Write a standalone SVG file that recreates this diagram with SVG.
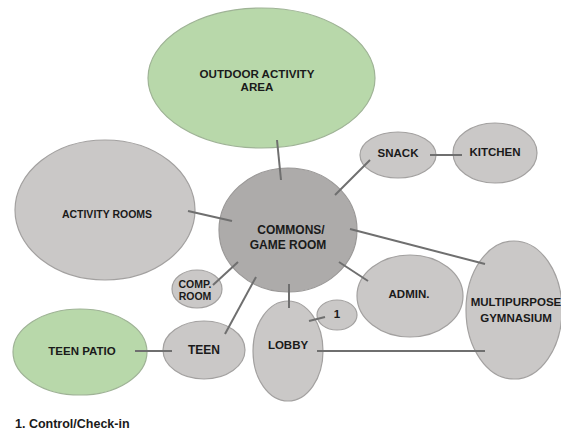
<svg xmlns="http://www.w3.org/2000/svg" width="561" height="430" viewBox="0 0 561 430">
<style>
.g{fill:#b8d8aa;stroke:#9fb396;stroke-width:1.2}
.n{fill:#cac8c7;stroke:#a3a1a0;stroke-width:1.2}
.c{fill:#adabaa;stroke:#9a9897;stroke-width:1.2}
.t{font-family:"Liberation Sans",Arial,sans-serif;font-weight:bold;font-size:11.5px;fill:#1a1a1a;text-anchor:middle}
.e{stroke:#6f6f6f;stroke-width:2;fill:none}
</style>
<rect width="561" height="430" fill="#ffffff"/>
<g id="node-outdoor"><ellipse class="g" cx="261.5" cy="78" rx="113.5" ry="70"/><text class="t" x="257" y="77.5" style="font-size:11.6px">OUTDOOR ACTIVITY</text><text class="t" x="257" y="91" style="font-size:11.6px">AREA</text></g>
<g id="node-activity"><ellipse class="n" cx="105" cy="210" rx="90" ry="70"/><text class="t" x="107" y="218" style="font-size:10.5px">ACTIVITY ROOMS</text></g>
<g id="node-commons"><ellipse class="c" cx="288" cy="230" rx="69" ry="62"/><text class="t" x="291" y="234" style="font-size:12px">COMMONS/</text><text class="t" x="288" y="249" style="font-size:12px">GAME ROOM</text></g>
<g id="node-snack"><ellipse class="n" cx="398" cy="155" rx="38" ry="23"/><text class="t" x="398" y="157">SNACK</text></g>
<g id="node-kitchen"><ellipse class="n" cx="495" cy="153" rx="42" ry="30"/><text class="t" x="495" y="156">KITCHEN</text></g>
<g id="node-admin"><ellipse class="n" cx="410" cy="296" rx="53" ry="41"/><text class="t" x="409" y="298">ADMIN.</text></g>
<g id="node-gym"><ellipse class="n" cx="514" cy="310" rx="48" ry="69"/><text class="t" x="516" y="306">MULTIPURPOSE</text><text class="t" x="516" y="322">GYMNASIUM</text></g>
<g id="node-lobby"><ellipse class="n" cx="288" cy="351" rx="35" ry="50"/><text class="t" x="288" y="349">LOBBY</text></g>
<g id="node-1"><ellipse class="n" cx="337" cy="315" rx="20" ry="15"/><text class="t" x="337" y="318">1</text></g>
<g id="node-teen"><ellipse class="n" cx="204" cy="350" rx="41" ry="29"/><text class="t" x="204" y="354" style="font-size:12px">TEEN</text></g>
<g id="node-teenpatio"><ellipse class="g" cx="80" cy="352" rx="67" ry="43"/><text class="t" x="82" y="355">TEEN PATIO</text></g>
<g id="node-comp"><ellipse class="n" cx="197" cy="289" rx="25" ry="19"/><text class="t" x="195" y="287.5" style="font-size:10.5px">COMP.</text><text class="t" x="195" y="300" style="font-size:10.5px">ROOM</text></g>
<g id="connectors">
<line class="e" x1="277" y1="140" x2="281" y2="180"/>
<line class="e" x1="188" y1="211" x2="232" y2="221"/>
<line class="e" x1="335" y1="195" x2="370" y2="160"/>
<line class="e" x1="430" y1="155" x2="462" y2="155"/>
<line class="e" x1="350" y1="229" x2="485" y2="264"/>
<line class="e" x1="339" y1="262" x2="368" y2="281"/>
<line class="e" x1="289" y1="284" x2="289" y2="308"/>
<line class="e" x1="309" y1="321" x2="325" y2="317"/>
<line class="e" x1="317" y1="351" x2="485" y2="351"/>
<line class="e" x1="225" y1="334" x2="256" y2="277"/>
<line class="e" x1="213" y1="285" x2="238" y2="262"/>
<line class="e" x1="135" y1="351" x2="172" y2="351"/>
</g>
<text class="t" x="15" y="428" style="text-anchor:start;font-size:12.5px">1. Control/Check-in</text>
</svg>
